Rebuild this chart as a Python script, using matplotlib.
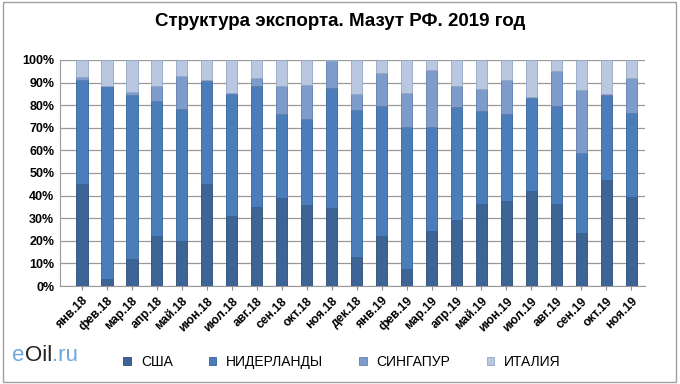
import numpy as np
import matplotlib.pyplot as plt
from matplotlib.patches import Rectangle

# ============================================================
# DATA (shares, %)
# ============================================================

months = ['янв.18', 'фев.18', 'мар.18', 'апр.18', 'май.18', 'июн.18',
          'июл.18', 'авг.18', 'сен.18', 'окт.18', 'ноя.18', 'дек.18',
          'янв.19', 'фев.19', 'мар.19', 'апр.19', 'май.19', 'июн.19',
          'июл.19', 'авг.19', 'сен.19', 'окт.19', 'ноя.19']

usa = [45, 3, 12, 22, 20, 45, 31, 35, 39, 36, 34.5, 13,
       22, 7.5, 24.5, 29, 36.5, 37.5, 42, 36.5, 23.5, 47, 39.5]
netherlands = [46, 85.5, 72.5, 60, 58.5, 45.5, 54, 53.5, 37, 38, 53, 65,
               57.5, 63, 46, 50, 41, 38.5, 41, 43, 35.5, 37.5, 37]
singapore = [1.5, 0, 1.5, 6.5, 14.5, 0.5, 0.5, 3.5, 12.5, 15, 12, 7,
             14.5, 15, 25, 9.5, 9.5, 15, 0.5, 15.5, 27.5, 0.5, 15.5]
italy = [7.5, 11.5, 14, 11.5, 7, 9, 14.5, 8, 11.5, 11, 0.5, 15,
         6, 14.5, 4.5, 11.5, 13, 9, 16.5, 5, 13.5, 15, 8]

series = ['США', 'НИДЕРЛАНДЫ', 'СИНГАПУР', 'ИТАЛИЯ']
colors = ['#3c6595', '#4a7dba', '#7d9ccb', '#b9c7e0']
edges = ['#2c4c72', '#36629a', '#5f7fae', '#93a6c6']

# ============================================================
# PLOT
# ============================================================

plt.rcParams['font.family'] = ['Liberation Sans', 'DejaVu Sans']

fig = plt.figure(figsize=(6.8, 3.84), dpi=100)
ax = fig.add_axes([0.088, 0.255, 0.861, 0.589])

x = np.arange(len(months))
data = np.array([usa, netherlands, singapore, italy], dtype=float)
data = data / data.sum(axis=0)

bottom = np.zeros(len(months))
handles = []
for vals, name, c, e in zip(data, series, colors, edges):
    h = ax.bar(x, vals, 0.46, bottom=bottom, color=c, edgecolor=e,
               linewidth=0.6, label=name, zorder=3)
    handles.append(h)
    bottom += vals

ax.set_ylim(0, 1)
ax.set_xlim(-0.88, 22.56)
ax.set_yticks(np.linspace(0, 1, 11))
ax.set_yticklabels([f'{i}%' for i in range(0, 101, 10)],
                   fontsize=9, fontweight='bold')
ax.set_xticks(x)
ax.set_xticklabels(months, rotation=45, ha='right', rotation_mode='anchor',
                   fontsize=8.8, fontweight='bold')
ax.tick_params(axis='y', length=0, pad=4)
ax.tick_params(axis='x', length=3, color='#888888')

ax.grid(axis='y', color='#999999', linewidth=0.9, zorder=0)
for s in ['top', 'right']:
    ax.spines[s].set_visible(False)
ax.spines['left'].set_color('#999999')
ax.spines['bottom'].set_color('#999999')

fig.text(0.5, 0.945, 'Структура экспорта. Мазут РФ. 2019 год',
         ha='center', va='center', fontsize=13.5, fontweight='bold')

fig.legend(handles=handles, labels=series, loc='center',
           bbox_to_anchor=(0.503, 0.057), ncol=4, frameon=False,
           fontsize=10, handlelength=0.55, handleheight=0.55,
           columnspacing=2.6, handletextpad=0.7)

# logo: pieces chained one after another
t1 = fig.text(0.018, 0.073, 'e', color='#6fa8dc', fontsize=16,
              ha='left', va='center')
t2 = ax.annotate('Oil', xy=(1, 0.5), xycoords=t1, xytext=(0.5, 0),
                 textcoords='offset points', color='#222222', fontsize=16,
                 ha='left', va='center', annotation_clip=False)
t3 = ax.annotate('.ru', xy=(1, 0.5), xycoords=t2, xytext=(-0.5, 0),
                 textcoords='offset points', color='#6fa8dc', fontsize=16,
                 ha='left', va='center', annotation_clip=False)

fig.patches.append(Rectangle((0.004, 0.006), 0.99, 0.988,
                             transform=fig.transFigure, fill=False,
                             edgecolor='#a0a0a0', linewidth=1))

fig.savefig('out.png', dpi=100)
